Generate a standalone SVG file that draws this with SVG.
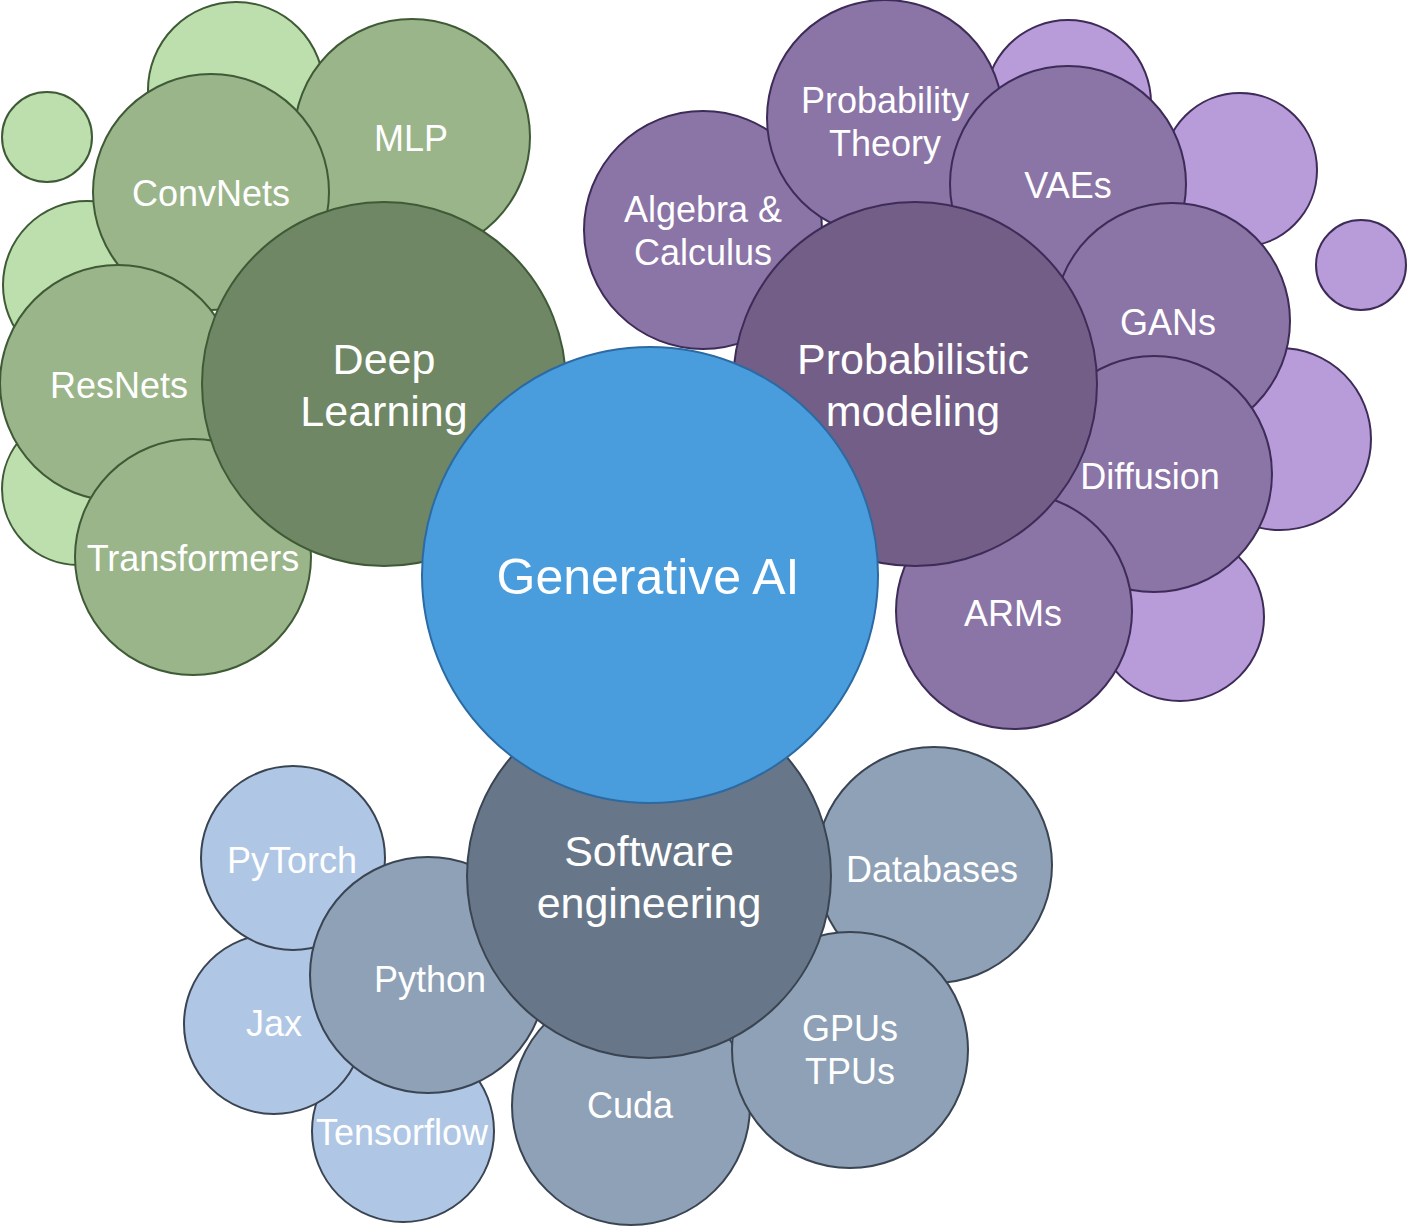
<svg xmlns="http://www.w3.org/2000/svg" width="1408" height="1226" viewBox="0 0 1408 1226">
<style>
circle{stroke-width:2}
text{font-family:"Liberation Sans",Arial,sans-serif;fill:#ffffff;text-anchor:middle}
.s{font-size:36px}
.m{font-size:43px}
.l{font-size:50px}
.g1{fill:#bddfad;stroke:#3f5a36}
.g2{fill:#9bb58a;stroke:#3f5a36}
.g3{fill:#6f8764;stroke:#3f5a36}
.p1{fill:#b89bd9;stroke:#3d2c57}
.p2{fill:#8b74a6;stroke:#3d2c57}
.p3{fill:#735e87;stroke:#3d2c57}
.b{fill:#4a9ddd;stroke:#2c6aa3}
.w1{fill:#afc7e5;stroke:#3a4452}
.w2{fill:#8ea1b6;stroke:#3a4452}
.w3{fill:#677789;stroke:#3a4452}
</style>
<g id="green-background">
<circle class="g1" cx="236" cy="90" r="88"/>
<circle class="g1" cx="47" cy="137" r="45"/>
<circle class="g1" cx="87" cy="285" r="84"/>
<circle class="g1" cx="78" cy="489" r="76"/>
</g>
<g id="mlp"><circle class="g2" cx="412" cy="137" r="118"/><text class="s" x="411" y="151">MLP</text></g>
<g id="convnets"><circle class="g2" cx="211" cy="192" r="118"/><text class="s" x="211" y="206">ConvNets</text></g>
<g id="resnets"><circle class="g2" cx="118" cy="383" r="118"/><text class="s" x="119" y="398">ResNets</text></g>
<g id="transformers"><circle class="g2" cx="193" cy="557" r="118"/><text class="s" x="193" y="571">Transformers</text></g>
<g id="deep-learning"><circle class="g3" cx="384" cy="384" r="182"/><text class="m" x="384" y="374">Deep</text><text class="m" x="384" y="426">Learning</text></g>
<g id="purple-background">
<circle class="p1" cx="1068" cy="103" r="83"/>
<circle class="p1" cx="1240" cy="170" r="77"/>
<circle class="p1" cx="1361" cy="265" r="45"/>
<circle class="p1" cx="1280" cy="439" r="91"/>
<circle class="p1" cx="1180" cy="617" r="84"/>
</g>
<g id="algebra"><circle class="p2" cx="703" cy="230" r="119"/><text class="s" x="703" y="222">Algebra &amp;</text><text class="s" x="703" y="265">Calculus</text></g>
<g id="probability-theory"><circle class="p2" cx="885" cy="118" r="118"/><text class="s" x="885" y="113">Probability</text><text class="s" x="885" y="156">Theory</text></g>
<g id="vaes"><circle class="p2" cx="1068" cy="184" r="118"/><text class="s" x="1068" y="198">VAEs</text></g>
<g id="gans"><circle class="p2" cx="1172" cy="321" r="118"/><text class="s" x="1168" y="335">GANs</text></g>
<g id="diffusion"><circle class="p2" cx="1154" cy="474" r="118"/><text class="s" x="1150" y="489">Diffusion</text></g>
<g id="arms"><circle class="p2" cx="1014" cy="611" r="118"/><text class="s" x="1013" y="626">ARMs</text></g>
<g id="probabilistic-modeling"><circle class="p3" cx="915" cy="384" r="182"/><text class="m" x="913" y="374">Probabilistic</text><text class="m" x="913" y="426">modeling</text></g>
<g id="tensorflow"><circle class="w1" cx="403" cy="1131" r="91"/><text class="s" x="402" y="1145">Tensorflow</text></g>
<g id="jax"><circle class="w1" cx="274" cy="1024" r="90"/><text class="s" x="274" y="1036">Jax</text></g>
<g id="pytorch"><circle class="w1" cx="293" cy="858" r="92"/><text class="s" x="292" y="873">PyTorch</text></g>
<g id="python"><circle class="w2" cx="428" cy="975" r="118"/><text class="s" x="430" y="992">Python</text></g>
<g id="cuda"><circle class="w2" cx="631" cy="1106" r="119"/><text class="s" x="630" y="1118">Cuda</text></g>
<g id="databases"><circle class="w2" cx="934" cy="865" r="118"/><text class="s" x="932" y="882">Databases</text></g>
<g id="gpus-tpus"><circle class="w2" cx="850" cy="1050" r="118"/><text class="s" x="850" y="1041">GPUs</text><text class="s" x="850" y="1084">TPUs</text></g>
<g id="software-engineering"><circle class="w3" cx="649" cy="876" r="182"/><text class="m" x="649" y="866">Software</text><text class="m" x="649" y="918">engineering</text></g>
<g id="generative-ai"><circle class="b" cx="650" cy="575" r="228"/><text class="l" x="648" y="594">Generative AI</text></g>
<g id="connectors"/>
</svg>
